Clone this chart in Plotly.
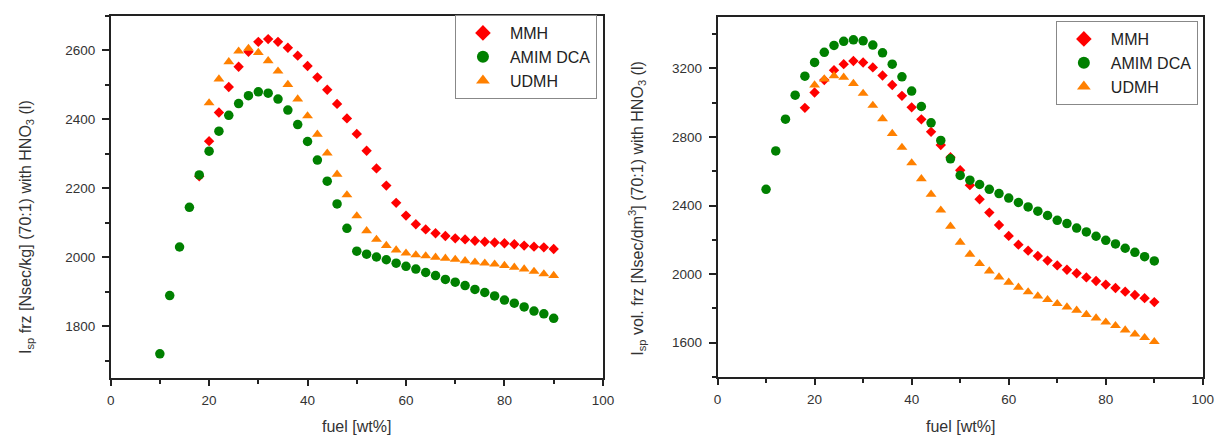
import plotly.graph_objects as go

# ---------------- data ----------------
x_amim = list(range(10, 92, 2))
x_mmh = list(range(18, 92, 2))
x_udmh = list(range(20, 92, 2))

# Left panel: Isp frz [Nsec/kg]
mmh_left = [2235, 2337, 2420, 2494, 2553, 2596, 2625, 2633, 2625, 2608, 2585, 2555, 2522, 2486,
            2445, 2403, 2358, 2309, 2258, 2208, 2158, 2121, 2096, 2081, 2070, 2062, 2055, 2052,
            2048, 2045, 2043, 2041, 2038, 2034, 2031, 2029, 2024]
amim_left = [1720, 1889, 2030, 2145, 2239, 2308, 2366, 2412, 2446, 2469, 2480, 2476, 2459, 2427,
             2385, 2336, 2282, 2221, 2155, 2084, 2018, 2009, 2001, 1993, 1983, 1974, 1966, 1956,
             1947, 1936, 1928, 1918, 1907, 1898, 1888, 1876, 1867, 1856, 1844, 1836, 1823]
udmh_left = [2448, 2517, 2567, 2598, 2606, 2594, 2570, 2540, 2501, 2459, 2410, 2357, 2302, 2241,
             2181, 2120, 2077, 2052, 2034, 2021, 2012, 2007, 2004, 2000, 1997, 1994, 1990, 1986,
             1983, 1980, 1976, 1971, 1966, 1959, 1952, 1947]

# Right panel: Isp vol. frz [Nsec/dm3]
mmh_right = [2970, 3060, 3132, 3190, 3225, 3243, 3235, 3206, 3159, 3103, 3040, 2973, 2903, 2830,
             2753, 2682, 2606, 2519, 2437, 2359, 2287, 2223, 2172, 2137, 2106, 2079, 2051, 2026,
             2005, 1981, 1960, 1939, 1919, 1898, 1878, 1860, 1837]
amim_right = [2495, 2719, 2904, 3044, 3155, 3235, 3294, 3334, 3358, 3367, 3361, 3336, 3291, 3225,
              3151, 3068, 2978, 2883, 2780, 2673, 2576, 2548, 2523, 2495, 2470, 2444, 2418, 2392,
              2367, 2342, 2314, 2295, 2269, 2246, 2221, 2197, 2176, 2151, 2127, 2102, 2077]
udmh_right = [3103, 3138, 3157, 3148, 3112, 3054, 2984, 2906, 2820, 2739, 2649, 2556, 2466, 2373,
              2279, 2186, 2116, 2061, 2018, 1983, 1952, 1923, 1896, 1872, 1851, 1828, 1808, 1789,
              1764, 1744, 1720, 1699, 1674, 1650, 1629, 1606]

names = ["MMH", "AMIM DCA", "UDMH"]
colors = ["#FF0000", "#008000", "#FF8000"]
symbols = ["diamond", "circle", "triangle-up"]
sizes = [8, 9.5, 9.5]

x_ticks = [0, 20, 40, 60, 80, 100]

# ---------------- figure ----------------
W, H = 1215, 436
KX = 1.009  # small horizontal correction observed between requested and captured positions
fig = go.Figure()

left_sets = [(x_mmh, mmh_left), (x_amim, amim_left), (x_udmh, udmh_left)]
right_sets = [(x_mmh, mmh_right), (x_amim, amim_right), (x_udmh, udmh_right)]

for (xs, ys), n, c, s, sz in zip(left_sets, names, colors, symbols, sizes):
    fig.add_trace(go.Scatter(x=xs, y=ys, mode="markers", name=n,
                             marker=dict(symbol=s, color=c, size=sz, line=dict(width=0)),
                             xaxis="x", yaxis="y", legend="legend"))
for (xs, ys), n, c, s, sz in zip(right_sets, names, colors, symbols, sizes):
    fig.add_trace(go.Scatter(x=xs, y=ys, mode="markers", name=n,
                             marker=dict(symbol=s, color=c, size=sz, line=dict(width=0)),
                             xaxis="x2", yaxis="y2", legend="legend2"))

font_family = "Liberation Sans, Arial, sans-serif"
axis_line = "#222222"
tick_font = dict(family=font_family, size=13.5, color="#333333")

def px_x(p):
    return min(1.0, p * KX / W)

def px_y(p):
    return 1 - p / H

def xa(domain, anchor):
    return dict(domain=domain, anchor=anchor, range=[0, 100], tickvals=x_ticks,
                showgrid=False, zeroline=False, showline=True, linecolor=axis_line, linewidth=1.5,
                mirror=True, ticks="outside", ticklen=6, tickwidth=1.5, tickcolor=axis_line,
                minor=dict(dtick=10, ticks="outside", ticklen=4, tickwidth=1.5, tickcolor=axis_line),
                tickfont=tick_font, ticklabelstandoff=3)

def ya(domain, anchor, rng, dtick, mdtick):
    return dict(domain=domain, anchor=anchor, range=rng, dtick=dtick, tick0=0,
                showgrid=False, zeroline=False, showline=True, linecolor=axis_line, linewidth=1.5,
                mirror=True, ticks="outside", ticklen=7, tickwidth=1.5, tickcolor=axis_line,
                minor=dict(dtick=mdtick, ticks="outside", ticklen=4, tickwidth=1.5, tickcolor=axis_line),
                tickfont=tick_font, ticklabelstandoff=4)

legend_common = dict(bgcolor="white", bordercolor="#888888", borderwidth=1,
                     font=dict(family=font_family, size=16, color="#222222"),
                     xanchor="right", yanchor="top", tracegroupgap=0,
                     itemsizing="constant", itemwidth=44)

title_font = dict(family=font_family, size=16, color="#333333")

def ann(text, x, y, angle=0):
    return dict(text=text, x=px_x(x), y=px_y(y), xref="paper", yref="paper",
                xanchor="center", yanchor="middle", textangle=angle,
                showarrow=False, font=title_font)

fig.update_layout(
    width=W, height=H,
    margin=dict(l=0, r=0, t=0, b=0),
    paper_bgcolor="white", plot_bgcolor="white",
    font=dict(family=font_family, color="#333333"),
    xaxis=xa([px_x(107), px_x(601)], "y"),
    yaxis=ya([px_y(378), px_y(16)], "x", [1650, 2700], 200, 100),
    xaxis2=xa([px_x(716), px_x(1203)], "y2"),
    yaxis2=ya([px_y(377), px_y(17)], "x2", [1400, 3500], 400, 200),
    legend=dict(x=px_x(595), y=px_y(15), **legend_common),
    legend2=dict(x=px_x(1198), y=px_y(21), **legend_common),
    annotations=[
        ann("fuel [wt%]", 354, 426),
        ann("fuel [wt%]", 960, 426),
        ann("I<sub>sp</sub> frz [Nsec/kg] (70:1) with HNO<sub>3</sub> (l)", 22, 227, -90),
        ann("I<sub>sp</sub> vol. frz [Nsec/dm<sup>3</sup>] (70:1) with HNO<sub>3</sub> (l)", 635, 208, -90),
    ],
)

fig.write_html("out.html", config={"displayModeBar": False},
               post_script="document.body.style.margin='0';document.body.style.overflow='hidden';")
